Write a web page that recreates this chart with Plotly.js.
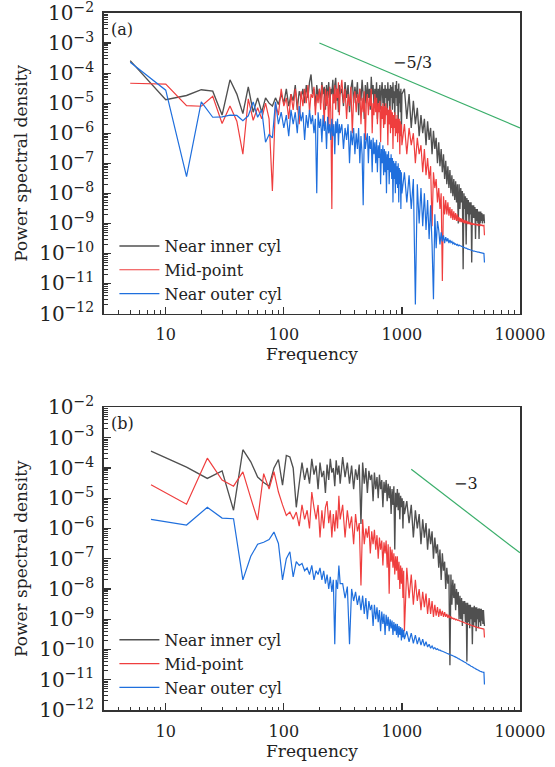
<!DOCTYPE html>
<html>
<head>
<meta charset="utf-8">
<script src="https://cdn.plot.ly/plotly-3.0.1.min.js"></script>
<style>
html,body{margin:0;padding:0;background:#fff;}
#chart{width:555px;height:767px;}
</style>
</head>
<body>
<div id="chart"></div>
<script>
// ---------- Data ----------
const seriesNames = ["Near inner cyl", "Mid-point", "Near outer cyl"];

// Panel (a) frequencies
const freqA = [5,10,15,20,25,30,35,40,45,50,
55,60,65,70,75,80,85,90,95,100,
105,110,115,120,125,130,135,140,145,150,
155,160,165,170,175,180,185,190,195,200,
205,210,215,220,225,230,235,240,245,250,
255,260,265,270,275,280,285,290,295,300,
310,320,330,340,350,360,370,380,390,400,
410,420,430,440,450,460,470,480,490,500,
510,520,530,540,550,560,570,580,590,600,
610,620,630,640,650,660,670,680,690,700,
710,720,730,740,750,760,770,780,790,800,
810,820,830,840,850,860,870,880,890,900,
910,920,930,940,950,960,970,980,990,1000,
1050,1100,1150,1200,1250,1300,1350,1400,1450,1500,
1550,1600,1650,1700,1750,1800,1850,1900,1950,2000,
2050,2100,2150,2200,2250,2300,2350,2400,2450,2500,
2550,2600,2650,2700,2750,2800,2850,2900,2950,3000,
3050,3100,3150,3200,3250,3300,3350,3400,3450,3500,
3550,3600,3650,3700,3750,3800,3850,3900,3950,4000,
4050,4100,4150,4200,4250,4300,4350,4400,4450,4500,
4550,4600,4650,4700,4750,4800,4850,4900,4950,5000];

const innerA = [2.6e-4,1.3e-5,1.8e-5,2.8e-5,2.5e-5,4e-6,6e-5,2e-5,4.5e-6,3.5e-5,
5e-6,1.5e-5,5e-6,1.5e-5,1e-5,8e-6,1.5e-5,9e-6,2e-5,1e-5,
3e-5,8e-6,2e-5,1.2e-5,4e-5,6e-6,2.5e-5,1.5e-5,3e-5,1e-5,
4e-5,1.5e-5,5e-5,9e-5,2e-5,3e-5,8e-6,4e-5,1.5e-5,3e-5,
1e-5,5e-5,2e-5,3.5e-5,6e-6,4e-5,1.5e-5,5e-5,8e-6,3e-5,
2e-5,6e-5,1e-5,4e-5,7e-5,1.2e-5,3e-5,5e-6,4e-5,2e-5,
3e-5,8e-6,5e-5,1.5e-5,4e-5,5e-6,3e-5,6e-5,1e-5,3.5e-5,
1.5e-5,5e-5,4e-6,3e-5,1.2e-5,6e-5,2e-5,3e-6,4e-5,1e-5,
5e-5,1.5e-5,3e-5,6e-6,7.5e-5,2e-5,4e-5,8e-6,3e-5,1.2e-5,
5e-5,3e-6,3e-5,1e-5,4e-5,6e-6,2.5e-5,5e-5,1e-5,3e-5,
2e-6,4e-5,1.5e-5,3e-5,5e-6,5e-5,1.2e-5,3e-5,2e-6,4e-5,
1.5e-5,3.5e-5,6e-6,5e-5,1e-5,2.5e-5,3e-6,4e-5,1.5e-5,5.5e-5,
8e-6,3e-5,2e-6,4.5e-5,1e-5,2.5e-5,5e-6,3e-5,1e-6,2e-5,
3e-5,3e-6,2e-5,1.5e-6,1.2e-5,2e-6,7e-6,8e-7,4e-6,1e-6,
3e-6,4e-7,2.5e-6,6e-7,1.5e-6,2e-7,1.2e-6,3e-7,7e-7,1e-7,
5e-7,8e-8,3e-7,5e-8,2e-7,3e-8,1.2e-7,2e-8,8e-8,1.5e-8,
6e-8,1e-8,4e-8,8e-9,3e-8,6e-9,2.5e-8,5e-9,2e-8,1e-9,
2e-8,3e-9,1.5e-8,5e-9,1.2e-8,3e-11,1e-8,3e-9,8e-9,2e-10,
7e-9,2e-9,6e-9,1e-9,5e-9,2e-9,5e-9,5e-11,4e-9,1.5e-9,
4e-9,1.5e-9,3.5e-9,3e-10,3e-9,1.2e-9,3e-9,1e-9,2.5e-9,3e-10,
2.5e-9,1e-9,2.5e-9,1.2e-9,2.2e-9,1e-9,2e-9,1.2e-9,2e-9,1e-9];

const midA = [4.6e-5,4.3e-5,8.3e-6,7.9e-6,1.7e-5,2.1e-6,8e-6,2.5e-6,2e-7,1.4e-5,
2.7e-6,7e-6,3e-6,1e-5,3e-6,1.2e-8,1e-5,4e-6,3e-5,8e-6,
1.5e-5,3e-6,2e-5,6e-6,3e-5,1e-5,2e-6,2.5e-5,8e-6,3e-5,
1e-5,4e-5,5e-6,2e-5,1.5e-5,3.5e-5,4e-6,2e-5,1e-5,3e-5,
6e-6,4e-5,1.5e-5,2e-6,3e-5,8e-6,2.5e-5,1e-6,3.5e-5,5e-6,
3e-9,2e-5,1e-5,4e-5,6e-6,3e-5,1.5e-5,5e-5,4e-6,2e-5,
6e-5,1e-5,3e-5,3e-6,2e-5,8e-6,3.5e-5,1e-6,1.5e-5,2.5e-5,
5e-6,2e-5,1e-5,3e-5,2e-6,1.5e-5,5e-6,2.5e-5,6e-7,1.2e-5,
2e-5,4e-6,1.5e-5,8e-6,3e-5,1e-6,1e-5,4e-6,2e-5,5e-6,
1.5e-5,2e-6,1e-5,5e-6,1.2e-5,5e-7,8e-6,3e-6,1e-5,1.5e-6,
8e-6,2e-6,1e-5,4e-6,7e-6,4e-7,6e-6,2e-6,8e-6,1e-6,
6e-6,1.5e-6,5e-6,3e-7,4e-6,1.5e-6,5e-6,8e-7,3e-6,1e-6,
4e-6,5e-7,3e-6,1e-6,3e-6,2e-7,2.5e-6,8e-7,2e-6,4e-7,
2e-6,2e-7,1.5e-6,4e-7,1e-6,1e-7,7e-7,2e-7,4e-7,5e-8,
3e-7,4e-8,1.5e-7,3e-8,8e-8,8e-10,5e-8,1.5e-8,3e-8,5e-9,
1.5e-8,3e-9,1e-8,1.2e-11,8e-9,2e-9,6e-9,2e-9,5e-9,1.8e-9,
3.5e-9,1.5e-9,3e-9,1.3e-9,2.5e-9,1.3e-9,2.2e-9,1.2e-9,2e-9,1.2e-9,
1.6e-9,1.1e-9,1.5e-9,1.1e-9,1.4e-9,1.05e-9,1.3e-9,1e-9,1.25e-9,1e-9,
1.2e-9,9.5e-10,1.15e-9,9.5e-10,1.1e-9,9.2e-10,1.05e-9,9e-10,1e-9,9e-10,
1e-9,8.8e-10,9.8e-10,8.8e-10,9.6e-10,8.7e-10,9.4e-10,8.6e-10,9.2e-10,8.6e-10,
9e-10,8.5e-10,9e-10,8.5e-10,8.8e-10,8.4e-10,8.7e-10,8.4e-10,8.6e-10,4e-10];

const outerA = [2.3e-4,2.7e-5,3.6e-8,1.1e-5,3.4e-6,3.5e-6,4e-6,3.9e-6,2.6e-6,3.8e-6,
1.1e-5,3.4e-6,6e-6,5e-7,9e-7,7e-7,1.1e-5,2e-6,5e-6,1.5e-6,
4e-6,8e-7,6e-6,2e-6,5e-6,1e-6,8e-6,2.5e-6,5e-6,6e-7,
4e-6,1.5e-6,6e-6,2e-6,4e-6,1e-6,3e-6,1e-8,5e-6,1.5e-6,
3e-6,5e-7,4e-6,1.2e-6,2.5e-6,3e-7,3.5e-6,1e-6,2e-6,6e-7,
3e-6,8e-7,2e-6,2e-7,2.5e-6,1e-6,3e-6,4e-7,2e-6,1e-6,
2e-6,3e-7,1.5e-6,6e-7,2e-6,1e-7,1.2e-6,4e-7,1.5e-6,2e-7,
1e-6,3e-7,1.5e-6,1e-7,8e-7,2e-7,4e-9,1e-6,3e-7,6e-7,
1e-6,1e-7,8e-7,3e-7,6e-7,5e-8,7e-7,2e-7,5e-7,1e-7,
6e-7,5e-8,4e-7,1.5e-7,5e-7,2e-8,3e-7,1e-7,4e-7,4e-8,
3e-7,5e-8,2.5e-7,1e-8,2e-7,6e-8,2.5e-7,2e-8,1.5e-7,5e-8,
2e-7,3e-8,1.5e-7,5e-9,1.2e-7,3e-8,1e-7,1e-8,1.2e-7,2e-8,
8e-8,1.5e-8,1e-7,5e-9,7e-8,2e-8,6e-8,3e-9,5e-8,1e-8,
5e-8,5e-9,4e-8,3e-9,3e-8,2e-12,2e-8,1e-9,1.5e-8,8e-10,
1e-8,6e-10,6e-9,3e-10,4e-9,2e-10,3e-12,2e-9,1.5e-10,1.2e-9,
6e-10,2e-10,5e-10,2.5e-10,4e-10,2.2e-10,3.5e-10,2.5e-10,3.2e-10,2.2e-10,
2.8e-10,2.3e-10,2.5e-10,2.1e-10,2.3e-10,2e-10,2.1e-10,1.9e-10,2e-10,1.8e-10,
1.9e-10,1.8e-10,1.8e-10,1.7e-10,1.7e-10,1.6e-10,1.6e-10,1.55e-10,1.5e-10,1.5e-10,
1.45e-10,1.4e-10,1.4e-10,1.35e-10,1.35e-10,1.3e-10,1.3e-10,1.28e-10,1.25e-10,1.22e-10,
1.2e-10,1.2e-10,1.18e-10,1.16e-10,1.15e-10,1.14e-10,1.12e-10,1.11e-10,1.1e-10,1.1e-10,
1.08e-10,1.07e-10,1.06e-10,1.05e-10,1.04e-10,1.03e-10,1.02e-10,1.01e-10,1e-10,5e-11];

// Panel (b) frequencies
const freqB = [7.5,15,22.5,30,37.5,45,52.5,60,67.5,75,
82.5,90,97.5,105,112.5,120,127.5,135,142.5,150,
157.5,165,172.5,180,187.5,195,202.5,210,217.5,225,
232.5,240,247.5,255,262.5,270,277.5,285,292.5,300,
315,330,345,360,375,390,405,420,435,450,
465,480,495,510,525,540,555,570,585,600,
615,630,645,660,675,690,705,720,735,750,
765,780,795,810,825,840,855,870,885,900,
915,930,945,960,975,990,1005,1020,1035,1050,
1100,1150,1200,1250,1300,1350,1400,1450,1500,1550,
1600,1650,1700,1750,1800,1850,1900,1950,2000,2050,
2100,2150,2200,2250,2300,2350,2400,2450,2500,2550,
2600,2650,2700,2750,2800,2850,2900,2950,3000,3050,
3100,3150,3200,3250,3300,3350,3400,3450,3500,3550,
3600,3650,3700,3750,3800,3850,3900,3950,4000,4050,
4100,4150,4200,4250,4300,4350,4400,4450,4500,4550,
4600,4650,4700,4750,4800,4850,4900,4950,5000];

const innerB = [3.6e-4,1.07e-4,4.5e-5,8e-5,4e-6,4e-4,1.6e-4,5e-5,3.3e-5,2.5e-5,
1e-4,1.9e-4,2.7e-5,2.6e-4,2.3e-4,1e-4,5e-6,3e-5,1.5e-4,4e-5,
1e-4,3e-5,2e-4,6e-5,1.2e-4,2e-5,1.5e-4,5e-5,8e-5,1.5e-5,
1.3e-4,4e-5,2e-4,7e-5,1e-4,2.5e-5,1.8e-4,6e-5,1.2e-4,3e-5,
2.3e-4,5e-5,1.5e-4,3e-5,1.2e-4,2e-5,9e-5,4e-5,1.3e-4,1.4e-6,
1.5e-4,3e-5,1e-4,1.5e-5,8e-5,4e-5,6e-5,8e-6,7e-5,2e-5,
5e-5,1e-5,6e-5,2e-5,4e-5,5e-6,3.5e-5,1.5e-5,4e-5,8e-6,
3e-5,1e-5,2.5e-5,3e-6,2e-5,6e-6,2.5e-5,2e-7,1.5e-5,5e-6,
2e-5,4e-6,1.5e-5,2e-6,1.2e-5,5e-6,1e-5,1e-6,8e-6,3e-6,
8e-6,1.5e-6,6e-6,5e-7,4e-6,1e-6,3e-6,3e-7,2e-6,5e-7,
1.5e-6,2e-7,1e-6,3e-7,8e-7,1e-7,5e-7,1.5e-7,3e-7,5e-8,
2e-7,2e-8,1.5e-7,4e-8,8e-8,1e-8,5e-8,1.5e-8,3e-8,3e-11,
3e-8,3e-9,2e-8,5e-9,1.5e-8,2e-9,1e-8,3e-9,8e-9,1e-9,
6e-9,1e-9,5e-9,6e-10,4e-9,1.5e-9,4e-9,8e-10,3.5e-9,4e-11,
3.5e-9,8e-10,3e-9,5e-10,3e-9,1e-9,2.5e-9,1.5e-10,2.5e-9,6e-10,
2.8e-9,8e-10,2.5e-9,4e-10,2.5e-9,1e-9,2.2e-9,5e-10,2.3e-9,8e-10,
2.2e-9,6e-10,2.2e-9,9e-10,2e-9,7e-10,2e-9,1e-9,6e-10];

const midB = [2.8e-5,6.3e-6,2.1e-4,4e-5,2.5e-5,7.4e-5,1e-5,1.9e-6,6.5e-5,2e-5,
7.5e-5,1.6e-5,6e-6,2.7e-6,3.5e-6,2e-6,3.5e-6,1.2e-6,6e-6,2e-6,
4e-6,1e-6,1.6e-5,5e-6,2e-6,6e-6,5e-7,4e-6,1e-6,5e-6,
8e-6,1.5e-6,4e-6,5e-7,3e-6,8e-7,4e-6,1e-6,1.2e-5,2e-6,
6e-6,5e-7,4e-6,1e-6,2.5e-6,3e-7,3e-6,8e-7,1.5e-6,1.3e-8,
2e-6,3e-7,1e-6,5e-7,1.2e-6,1.5e-7,8e-7,3e-7,9e-7,2e-7,
6e-7,1e-7,5e-7,2e-7,4e-7,6e-8,3.5e-7,1.5e-7,4e-7,5e-8,
3e-7,7e-9,2.5e-7,8e-8,2e-7,5e-8,1.5e-7,3e-8,1.2e-7,4e-8,
1.2e-7,2e-8,8e-8,1e-8,6e-8,1.5e-8,5e-8,5e-9,4e-8,4e-10,
5e-8,5e-9,3e-8,3e-9,2e-8,4e-9,1e-8,2e-9,8e-9,2.5e-9,
7e-9,1.5e-9,5e-9,1.5e-9,4e-9,1.2e-9,3e-9,1.3e-9,2.5e-9,1.2e-9,
2.2e-9,1.3e-9,1.9e-9,1.2e-9,1.7e-9,1.2e-9,1.5e-9,1.1e-9,1.4e-9,1.1e-9,
1.2e-9,1.05e-9,1.1e-9,1e-9,1.05e-9,9.5e-10,1e-9,9.2e-10,9.5e-10,9e-10,
8.8e-10,8.6e-10,8.4e-10,8.2e-10,8e-10,7.8e-10,7.6e-10,7.5e-10,7.3e-10,7.2e-10,
7e-10,6.9e-10,6.7e-10,6.6e-10,6.5e-10,6.3e-10,6.2e-10,6.1e-10,6e-10,5.9e-10,
5.8e-10,5.7e-10,5.6e-10,5.5e-10,5.5e-10,5.4e-10,5.3e-10,5.3e-10,5.2e-10,5.1e-10,
5.1e-10,5e-10,5e-10,4.9e-10,4.9e-10,4.8e-10,4.8e-10,4.7e-10,2.5e-10];

const outerB = [2e-6,1.3e-6,5e-6,2.2e-6,2.1e-6,2e-8,1.2e-7,3e-7,3.5e-7,4.3e-7,
7.6e-7,3.2e-7,2e-8,1e-7,1.7e-7,2.5e-8,8e-8,6e-8,7e-8,4e-8,
5e-8,3e-8,6e-8,2e-8,4e-8,3e-8,5e-8,2e-8,4e-8,1.5e-8,
3e-8,1e-8,2.5e-8,8e-9,2e-8,1.5e-10,2e-8,1e-8,6e-8,1.5e-8,
1.5e-8,5e-9,1.2e-8,1.5e-10,1e-8,4e-9,8e-9,3e-9,6e-9,2e-9,
6e-9,1.5e-9,5e-9,1e-9,4e-9,2e-9,3e-9,6e-10,3e-9,1e-9,
2.5e-9,8e-10,2e-9,4e-10,1.8e-9,7e-10,1.5e-9,3e-10,1.4e-9,6e-10,
1.2e-9,4e-10,1e-9,5e-10,9e-10,3e-10,8e-10,4e-10,7e-10,3e-10,
7e-10,2.5e-10,6e-10,3e-10,5.5e-10,2e-10,5e-10,2.5e-10,4.5e-10,2.2e-10,
4e-10,1.8e-10,3.5e-10,1.6e-10,3e-10,1.5e-10,2.5e-10,1.4e-10,2.2e-10,1.3e-10,
1.8e-10,1.2e-10,1.5e-10,1.1e-10,1.3e-10,1.05e-10,1.15e-10,1e-10,1.05e-10,9.5e-11,
9.5e-11,9e-11,8.7e-11,8.4e-11,8.1e-11,7.8e-11,7.5e-11,7.3e-11,7e-11,6.8e-11,
6.6e-11,6.4e-11,6.2e-11,6e-11,5.8e-11,5.6e-11,5.4e-11,5.2e-11,5e-11,4.9e-11,
4.7e-11,4.5e-11,4.4e-11,4.2e-11,4.1e-11,3.9e-11,3.8e-11,3.7e-11,3.6e-11,3.4e-11,
3.3e-11,3.2e-11,3.1e-11,3e-11,2.9e-11,2.8e-11,2.75e-11,2.7e-11,2.6e-11,2.5e-11,
2.45e-11,2.4e-11,2.3e-11,2.25e-11,2.2e-11,2.15e-11,2.1e-11,2.05e-11,2e-11,1.95e-11,
1.9e-11,1.88e-11,1.85e-11,1.82e-11,1.8e-11,1.78e-11,1.76e-11,1.75e-11,7e-12];

// Reference slope lines
const slopeAx = [200, 10000];
const slopeAy = [1e-3, 1.5e-6];
const slopeBx = [1200, 10000];
const slopeBy = [9e-5, 1.56e-7];
const slopeLabels = ["\u22125/3", "\u22123"];
const panelLabels = ["(a)", "(b)"];

// ---------- Styles ----------
const colors = ["#505050", "#EF3E3E", "#1F6FDD"];
const widths = [1.35, 1.2, 1.2];
const green = "#3AAE6A";
const FONT = "DejaVu Serif, serif";
const TXT = "#222";

function line(x, y, i, xa, ya, leg) {
  return {x: x, y: y, xaxis: xa, yaxis: ya, type: "scatter", mode: "lines",
    name: seriesNames[i], legend: leg, showlegend: true,
    line: {color: colors[i], width: widths[i], simplify: false}, hoverinfo: "skip"};
}

const traces = [
  line(freqA, innerA, 0, "x", "y", "legend"),
  line(freqA, midA, 1, "x", "y", "legend"),
  line(freqA, outerA, 2, "x", "y", "legend"),
  {x: slopeAx, y: slopeAy, xaxis: "x", yaxis: "y", mode: "lines", showlegend: false,
   line: {color: green, width: 1.2}},
  line(freqB, innerB, 0, "x2", "y2", "legend2"),
  line(freqB, midB, 1, "x2", "y2", "legend2"),
  line(freqB, outerB, 2, "x2", "y2", "legend2"),
  {x: slopeBx, y: slopeBy, xaxis: "x2", yaxis: "y2", mode: "lines", showlegend: false,
   line: {color: green, width: 1.2}}
];

const axisCommon = {
  type: "log", showgrid: false, zeroline: false,
  showline: true, mirror: true, linecolor: "#333", linewidth: 1.6,
  ticks: "inside", ticklen: 7, tickwidth: 1.2, tickcolor: "#333", dtick: 1,
  ticklabeloverflow: "allow",
  tickfont: {family: FONT, size: 16, color: TXT},
  minor: {ticks: "inside", ticklen: 3.5, tickwidth: 1, tickcolor: "#333", dtick: "D1", showgrid: false}
};

function xaxis(anchor) {
  return Object.assign({}, axisCommon, {
    anchor: anchor, range: [Math.log10(3), 4], tickformat: "d",
    ticklabelstandoff: 6,
    title: {text: "Frequency", font: {family: FONT, size: 17, color: TXT}, standoff: 5}
  });
}
function yaxis(anchor, domain) {
  return Object.assign({}, axisCommon, {
    anchor: anchor, domain: domain, range: [-12, -2], exponentformat: "power",
    ticklabelstandoff: 5,
    title: {text: "Power spectral density", font: {family: FONT, size: 17, color: TXT}, standoff: 7}
  });
}

const legendCommon = {
  font: {family: FONT, size: 16, color: TXT},
  bgcolor: "rgba(255,255,255,0)", borderwidth: 0,
  xanchor: "left", yanchor: "top", tracegroupgap: 0, itemwidth: 40
};

const layout = {
  width: 555, height: 767,
  margin: {l: 104, r: 35, t: 13, b: 57},
  paper_bgcolor: "#fff", plot_bgcolor: "#fff",
  font: {family: FONT, size: 16, color: TXT},
  xaxis: xaxis("y"),
  yaxis: yaxis("x", [0.5688, 1]),
  xaxis2: xaxis("y2"),
  yaxis2: yaxis("x2", [0, 0.4341]),
  legend: Object.assign({}, legendCommon, {x: 0.025, y: 0.69}),
  legend2: Object.assign({}, legendCommon, {x: 0.025, y: 0.125}),
  annotations: [
    {text: panelLabels[0], xref: "x domain", yref: "y domain", x: 0.012, y: 0.985,
     xanchor: "left", yanchor: "top", showarrow: false, font: {family: FONT, size: 16, color: TXT}},
    {text: panelLabels[1], xref: "x2 domain", yref: "y2 domain", x: 0.012, y: 0.985,
     xanchor: "left", yanchor: "top", showarrow: false, font: {family: FONT, size: 16, color: TXT}},
    {text: slopeLabels[0], xref: "x", yref: "y", x: 3.093, y: -3.66, showarrow: false,
     font: {family: FONT, size: 16, color: TXT}},
    {text: slopeLabels[1], xref: "x2", yref: "y2", x: 3.54, y: -4.52, showarrow: false,
     font: {family: FONT, size: 16, color: TXT}}
  ],
  showlegend: true
};

Plotly.newPlot("chart", traces, layout, {staticPlot: true, displayModeBar: false});
</script>
</body>
</html>
